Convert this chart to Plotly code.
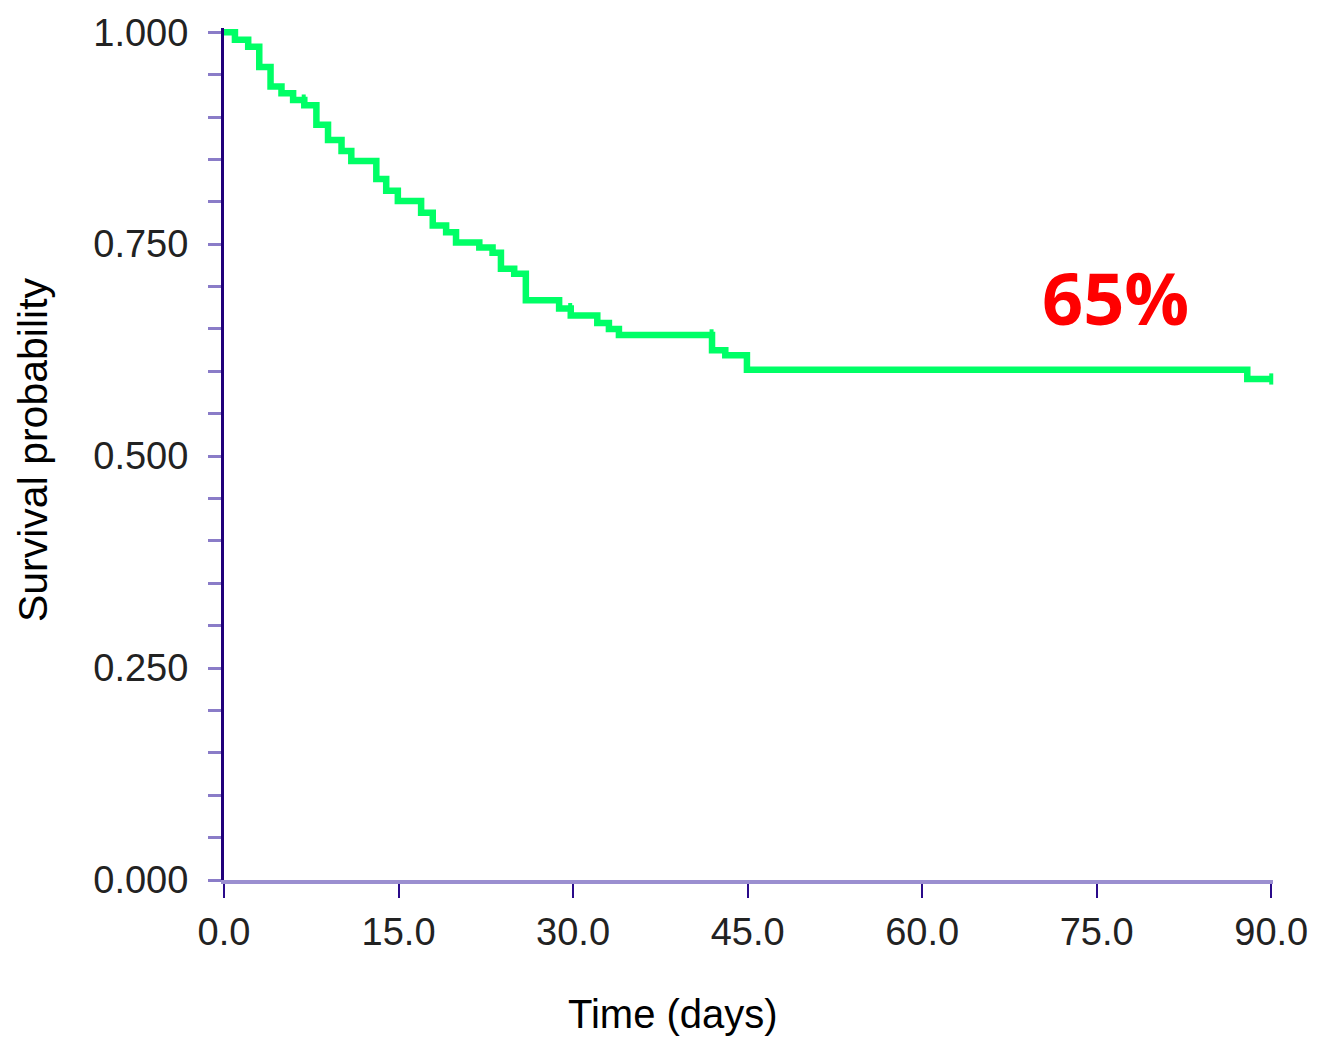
import plotly.graph_objects as go

# Kaplan-Meier step data (time in days, survival probability)
times = [0, 0.94, 2.08, 3.03, 4.0, 4.94, 5.94, 6.9, 7.94, 8.94, 10.1, 10.94,
         13.09, 13.94, 14.94, 16.94, 17.94, 19.09, 19.94, 21.94, 23.08, 23.8,
         24.94, 25.94, 28.8, 29.8, 32.08, 33.08, 33.94, 41.94, 43.08, 44.94,
         87.94, 90.0]
surv = [1.0, 0.991, 0.983, 0.959, 0.936, 0.928, 0.920, 0.914, 0.891, 0.873,
        0.860, 0.848, 0.827, 0.813, 0.801, 0.787, 0.772, 0.764, 0.752, 0.746,
        0.740, 0.721, 0.715, 0.684, 0.674, 0.666, 0.657, 0.650, 0.643, 0.625,
        0.619, 0.602, 0.591, 0.591]

# censor marks
cens_t = [6.85, 29.75, 41.9, 90.0]
cens_s = [0.920, 0.674, 0.643, 0.591]

x_ticks = [0, 15, 30, 45, 60, 75, 90]
x_labels = ["0.0", "15.0", "30.0", "45.0", "60.0", "75.0", "90.0"]
y_ticks = [0, 0.25, 0.5, 0.75, 1.0]
y_labels = ["0.000", "0.250", "0.500", "0.750", "1.000"]

annot_text = "65%"
annot_x, annot_y = 76.6, 0.688

GREEN = "#00ff66"

fig = go.Figure()
fig.add_trace(go.Scatter(x=times, y=surv, mode="lines",
                         line=dict(shape="hv", color=GREEN, width=6.5),
                         showlegend=False, hoverinfo="x+y"))
fig.add_trace(go.Scatter(x=cens_t, y=cens_s, mode="markers",
                         marker=dict(symbol="line-ns-open", size=8, color=GREEN,
                                     line=dict(color=GREEN, width=4)),
                         showlegend=False, cliponaxis=False))

tickfont = dict(family="Liberation Sans, Arial, sans-serif", size=38, color="#222222")

fig.update_layout(
    width=1320, height=1039,
    margin=dict(l=224, r=44, t=23, b=159),
    plot_bgcolor="white", paper_bgcolor="white",
    xaxis=dict(range=[0, 90.15], tickvals=x_ticks, ticktext=x_labels,
               showgrid=False, zeroline=False, showline=True,
               linecolor="#9b8fd0", linewidth=4,
               ticks="outside", ticklen=14, tickwidth=2, tickcolor="#2a0a8a",
               tickfont=tickfont, ticklabelstandoff=1),
    yaxis=dict(range=[0, 1.005], tickvals=y_ticks, ticktext=y_labels,
               showgrid=False, zeroline=False, showline=True,
               linecolor="#20007a", linewidth=3,
               ticks="outside", ticklen=13, tickwidth=3, tickcolor="#8a7cc8",
               minor=dict(dtick=0.05, ticks="outside", ticklen=13, tickwidth=3,
                          tickcolor="#8a7cc8", showgrid=False),
               tickfont=tickfont, ticklabelstandoff=12),
    annotations=[
        dict(x=annot_x, y=annot_y, xref="x", yref="y", text=annot_text,
             showarrow=False,
             font=dict(family="Open Sans, Lato, sans-serif", size=72,
                       color="#ff0000", weight="bold")),
    ],
)

plot_w = 1276 - 224
plot_h = 1039 - 23 - 159
fig.add_annotation(x=(674 - 224) / plot_w, y=-(1015 - 880) / plot_h,
                   xref="paper", yref="paper", text="Time (days)",
                   showarrow=False, xanchor="center", yanchor="middle",
                   font=dict(family="Liberation Sans, Arial, sans-serif", size=40, color="black"))
fig.add_annotation(x=-(224 - 32) / plot_w, y=0.5 - (447 - 451.5) / plot_h,
                   xref="paper", yref="paper", text="Survival probability",
                   textangle=-90, showarrow=False, xanchor="center", yanchor="middle",
                   font=dict(family="Liberation Sans, Arial, sans-serif", size=41, color="black"))

fig.write_html("out.html", config={"displayModeBar": False},
               post_script="document.body.style.margin='0';document.body.style.overflow='hidden';")
